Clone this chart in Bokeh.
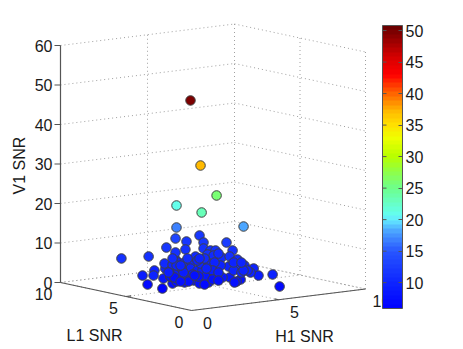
from bokeh.plotting import figure
from bokeh.models import LinearColorMapper, ColorBar, FixedTicker, ColumnDataSource
from bokeh.core.properties import value
from bokeh.embed import file_html
from bokeh.resources import INLINE
import numpy as np

h1 = [4.46,3.53,3.70,2.15,2.84,2.15,5.25,0.49,1.30,0.95,1.24,0.88,0.83,1.34,1.40,1.51,1.46,1.57,
      1.17,1.34,1.34,1.34,1.51,1.80,1.86,1.91,1.97,1.63,2.03,2.38,1.17,1.51,1.80,1.40,1.86,1.91,
      2.26,2.49,2.20,2.60,2.89,2.78,3.24,2.72,3.24,3.35,3.64,2.72,2.95,2.95,3.35,3.64,3.18,3.53,
      3.99,4.27,4.62,4.45,4.90,5.31,5.83,6.11,5.65,5.48,6.92,6.57,5.08,4.85,4.45,4.04,4.96,4.39,
      3.93,4.68,3.64,3.58,3.07,2.32,2.66,1.17,1.69,1.28,2.03,3.01,2.60,3.47,3.12,3.81,5.13,
      0.94,1.40,1.80,2.09,1.63,3.01,2.43,3.47,3.81,5.25,4.68,5.13,4.73,3.81,2.72,1.63,1.17]
l1 = [6,4,3,4,3,4,3,6,5,5,5,4,4,4,4,4,4,4,
      3,3,3,3,3,4,3,3,3,3,3,3,3,3,4,3,3,3,
      3,3,3,3,3,3,3,3,3,3,3,3,3,3,3,3,3,3,
      3,3,3,3,3,3,3,3,3,3,3,2,3,3,3,3,3,3,
      3,3,3,3,3,3,3,3,3,3,3,3,3,3,3,3,3,
      3,3,3,3,3,3,3,3,3,3,3,3,3,3,3,3,3]
v1 = [46.49,31.95,24.98,22.58,21.14,17.01,16.28,8.65,9.42,4.79,2.36,6.81,5.57,2.00,4.50,6.96,8.27,12.25,
      4.07,10.05,11.83,15.37,9.20,4.79,3.95,7.46,14.27,5.84,5.63,4.18,7.36,7.18,4.79,4.45,9.01,12.28,
      8.79,10.18,7.30,6.58,6.43,8.26,8.01,3.23,3.20,5.17,6.52,15.38,13.48,11.96,11.24,11.08,10.32,9.88,
      9.12,12.76,10.55,9.12,8.11,6.37,5.33,3.40,4.41,5.02,3.22,1.08,2.96,2.57,3.81,4.03,6.06,6.62,
      7.12,5.46,4.25,8.07,4.81,5.73,5.03,8.88,7.58,5.53,9.94,9.40,9.11,6.11,6.80,5.41,4.69,
      6.98,8.50,6.51,4.07,4.32,2.81,5.41,3.83,3.39,5.14,7.48,7.22,2.38,10.22,9.56,8.37,10.40]
snr = [50,37,26,21,23,16.5,18,11,11,9,7,10,10,6.5,8.5,10,10.5,12,
       7.5,10.5,11,13,10,8,7.5,9,12,8.5,8.5,8,9,9,8,7.5,10,11.5,
       10,10.5,9.5,9,9,10,10,7.5,7.5,8.5,9.5,12,12,11.5,11.5,11,11,10.5,
       10.5,12.5,11.5,11,10.5,10,10,9,9.5,9.5,10,7,8,7.5,8.5,8.5,10,10,
       10,9.5,8.5,10,8.5,8.5,8,10,9,8,10.5,10.5,10,9,9.5,9,9.5,
       9,9.5,9,7.5,7.5,7,8,8,8,9.5,10,10,7.5,10.5,10,9.5,10.5]

z_ticks = [0, 10, 20, 30, 40, 50, 60]
l_ticks = [0, 5, 10]
h_ticks = [0, 5, 10]
cb_ticks = [10, 15, 20, 25, 30, 35, 40, 45, 50]

CB_LOW, CB_HIGH = 5.9, 50.8
stop_c = [5.9, 10, 15, 18, 20, 21, 25, 28, 30, 33, 35, 37, 40, 43, 46, 50.8]
stop_rgb = [(0, 0, 255), (14, 38, 255), (40, 86, 255), (74, 160, 255), (100, 235, 255), (100, 255, 235),
            (110, 255, 140), (150, 255, 60), (185, 255, 0), (240, 255, 0), (255, 225, 0), (255, 190, 0),
            (255, 100, 0), (255, 0, 0), (210, 0, 0), (100, 0, 0)]


def proj(h, l, v):
    h, l, v = np.asarray(h, float), np.asarray(l, float), np.asarray(v, float)
    return 191 + 17.4 * h - 13.1 * l, 310 - 2.15 * h - 2.8 * l - 3.95 * v


def palette(n=64):
    out = []
    for i in range(n):
        c = CB_LOW + (i + 0.5) / n * (CB_HIGH - CB_LOW)
        rgb = [int(np.interp(c, stop_c, [s[k] for s in stop_rgb])) for k in range(3)]
        out.append("#%02x%02x%02x" % tuple(rgb))
    return out


W, H = 460, 346
p = figure(width=W, height=H, x_range=(0, W), y_range=(H, 0),
           output_backend="svg", toolbar_location=None, min_border=0)
p.axis.visible = False
p.grid.visible = False
p.outline_line_color = None


def line(a, b, **kw):
    xa, ya = proj(*a)
    xb, yb = proj(*b)
    p.line([float(xa), float(xb)], [float(ya), float(yb)], **kw)


GRID = dict(line_color="#a0a0a0", line_width=1, line_dash="1 3")
AXIS = dict(line_color="#555555", line_width=1.2)
for z in z_ticks:
    line((0, 10, z), (10, 10, z), **GRID)
    line((10, 10, z), (10, 0, z), **GRID)
for t in h_ticks:
    line((t, 10, 0), (t, 10, 60), **GRID)
    line((t, 0, 0), (t, 10, 0), **GRID)
for t in l_ticks:
    line((10, t, 0), (10, t, 60), **GRID)
    line((0, t, 0), (10, t, 0), **GRID)
line((0, 10, 0), (0, 10, 60), **AXIS)
line((0, 10, 0), (0, 0, 0), **AXIS)
line((0, 0, 0), (10, 0, 0), **AXIS)
for z in z_ticks:
    x, y = proj(0, 10, z)
    p.line([float(x) - 6, float(x)], [float(y), float(y)], **AXIS)
for t in [5]:
    line((t, 0, 0), (t, 0.3, 0), **AXIS)
    line((0.3, t, 0), (0, t, 0), **AXIS)

sx, sy = proj(h1, l1, v1)
src = ColumnDataSource(dict(x=sx, y=sy, c=snr))
mapper = LinearColorMapper(palette=palette(), low=CB_LOW, high=CB_HIGH)
p.scatter("x", "y", source=src, size=9.5, fill_color={"field": "c", "transform": mapper},
          line_color="#404040", line_width=1)

FONT = dict(text_font=value("Liberation Sans"), text_font_size=value("16px"), text_color="#1a1a1a")
zx, zy = proj([0] * len(z_ticks), [10] * len(z_ticks), z_ticks)
p.text(zx - 8, zy, text=[str(z) for z in z_ticks], text_align="right", text_baseline="middle", **FONT)
lx, ly = proj([0] * 3, l_ticks, [0] * 3)
p.text(lx - 8, ly + 11, text=[str(t) for t in l_ticks], text_align="right", text_baseline="middle", **FONT)
hx, hy = proj(h_ticks, [0] * 3, [0] * 3)
p.text(hx + 16, hy + 12, text=[str(t) for t in h_ticks], text_align="center", text_baseline="middle", **FONT)
p.text([94], [335], text=["L1 SNR"], text_align="center", text_baseline="middle", **FONT)
p.text([304], [336], text=["H1 SNR"], text_align="center", text_baseline="middle", **FONT)
p.text([19], [165], text=["V1 SNR"], angle=np.pi / 2, text_align="center", text_baseline="middle", **FONT)

cb = ColorBar(color_mapper=mapper, ticker=FixedTicker(ticks=cb_ticks), width=20, height=283,
              location=(382, H - 25 - 283), padding=0, margin=0, background_fill_color="white",
              major_label_text_font="Liberation Sans", major_label_text_font_size="16px",
              major_label_text_color="#1a1a1a", major_tick_line_color="#555555",
              major_tick_in=4, major_tick_out=0, minor_tick_line_color=None,
              bar_line_color="#555555", border_line_color=None, label_standoff=3)
p.add_layout(cb, "center")

# left-hand ticks of the colour bar, which Bokeh only draws on one side
bar_y = 308 - (np.array(cb_ticks, float) - CB_LOW) / (CB_HIGH - CB_LOW) * 283
p.segment([382] * len(bar_y), bar_y, [386] * len(bar_y), bar_y, line_color="#555555", line_width=1, level="overlay")

open("out.html", "w").write(file_html(p, INLINE))
